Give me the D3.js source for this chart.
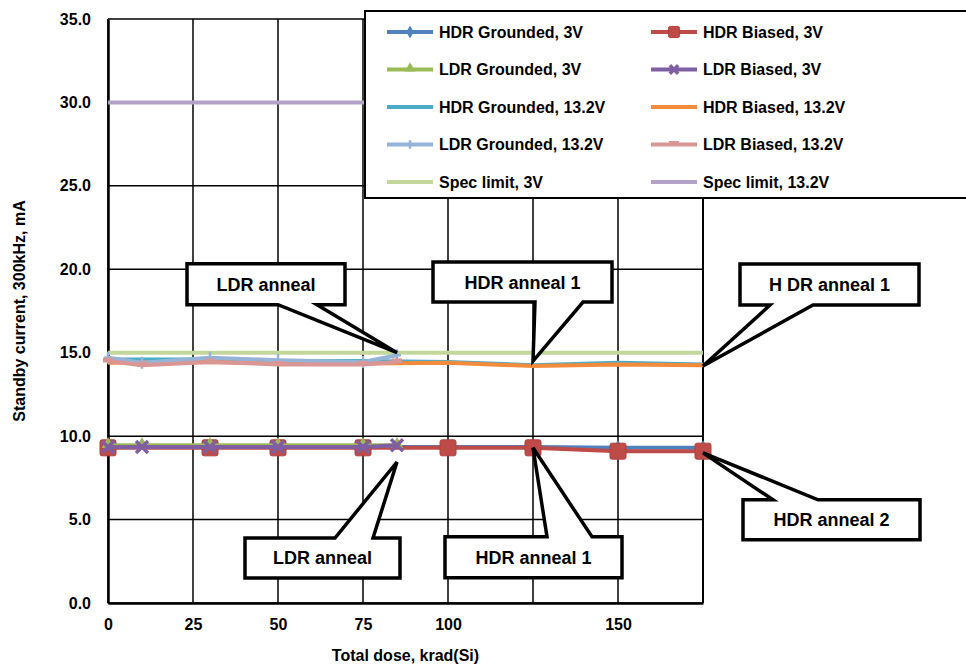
<!DOCTYPE html>
<html>
<head>
<meta charset="utf-8">
<script src="https://cdn.jsdelivr.net/npm/d3@7"></script>
<style>
  body { margin: 0; background: #fff; }
  text { font-family: "Liberation Sans", Arial, sans-serif; font-weight: bold; }
</style>
</head>
<body>
<div id="chart"></div>
<script>
// dose points, krad(Si)
const hdrDose = [0, 30, 50, 75, 100, 125, 150, 175];
const ldrDose = [0, 10, 30, 50, 75, 85];
const specDose = [0, 175];

// standby current, mA
const hdrGnd3 = [9.35, 9.35, 9.35, 9.35, 9.35, 9.35, 9.3, 9.3];
const hdrBias3 = [9.3, 9.3, 9.3, 9.3, 9.3, 9.3, 9.1, 9.1];
const ldrGnd3 = [9.45, 9.45, 9.45, 9.45, 9.45, 9.45];
const ldrBias3 = [9.35, 9.35, 9.35, 9.35, 9.35, 9.45];
const hdrGnd13 = [14.6, 14.6, 14.5, 14.5, 14.45, 14.25, 14.4, 14.3];
const hdrBias13 = [14.4, 14.45, 14.35, 14.35, 14.4, 14.2, 14.3, 14.25];
const ldrGnd13 = [14.7, 14.4, 14.7, 14.55, 14.45, 14.85];
const ldrBias13 = [14.5, 14.25, 14.45, 14.3, 14.3, 14.45];
const spec3 = [15.0, 15.0];
const spec13 = [30.0, 30.0];

const xTicks = [0, 25, 50, 75, 100, 150];
const yTicks = [0, 5, 10, 15, 20, 25, 30, 35];

const seriesNames = ["HDR Grounded, 3V", "HDR Biased, 3V", "LDR Grounded, 3V", "LDR Biased, 3V",
  "HDR Grounded, 13.2V", "HDR Biased, 13.2V", "LDR Grounded, 13.2V", "LDR Biased, 13.2V",
  "Spec limit, 3V", "Spec limit, 13.2V"];

// annotations: tip in data units, box offset from tip in px
const notes = [
  {text: "LDR anneal", dose: 85, mA: 15.0, dx: -210, dy: -89, w: 158, h: 41, b0: 91, b1: 130, side: "bottom"},
  {text: "HDR anneal 1", dose: 125, mA: 14.5, dx: -100, dy: -99, w: 179, h: 40, b0: 102, b1: 150, side: "bottom"},
  {text: "H DR anneal 1", dose: 175, mA: 14.2, dx: 37, dy: -102, w: 179, h: 41, b0: 30, b1: 73, side: "bottom"},
  {text: "LDR anneal", dose: 85, mA: 8.45, dx: -152, dy: 76, w: 155, h: 40, b0: 90, b1: 128, side: "top"},
  {text: "HDR anneal 1", dose: 125, mA: 9.3, dx: -88, dy: 89, w: 177, h: 41, b0: 102, b1: 147, side: "top"},
  {text: "HDR anneal 2", dose: 175, mA: 9.0, dx: 40, dy: 47, w: 177, h: 40, b0: 30, b1: 75, side: "top"}
];

const series = [
  {name: seriesNames[0], x: hdrDose, y: hdrGnd3, color: "#4F81BD", marker: "diamond"},
  {name: seriesNames[1], x: hdrDose, y: hdrBias3, color: "#BE4B48", marker: "square"},
  {name: seriesNames[2], x: ldrDose, y: ldrGnd3, color: "#9BBB59", marker: "triangle"},
  {name: seriesNames[3], x: ldrDose, y: ldrBias3, color: "#7F5FA1", marker: "x"},
  {name: seriesNames[4], x: hdrDose, y: hdrGnd13, color: "#4BACC6", marker: "none"},
  {name: seriesNames[5], x: hdrDose, y: hdrBias13, color: "#F38B3C", marker: "none"},
  {name: seriesNames[6], x: ldrDose, y: ldrGnd13, color: "#95B3D7", marker: "plus"},
  {name: seriesNames[7], x: ldrDose, y: ldrBias13, color: "#D99694", marker: "dash"},
  {name: seriesNames[8], x: specDose, y: spec3, color: "#C3D69B", marker: "none"},
  {name: seriesNames[9], x: specDose, y: spec13, color: "#B3A2C7", marker: "none"}
];

const margin = {top: 19, right: 263, bottom: 61, left: 108};
const W = 966, H = 664;
const width = W - margin.left - margin.right;
const height = H - margin.top - margin.bottom;

const svg = d3.select("#chart").append("svg")
  .attr("width", W)
  .attr("height", H);

const chart = svg.append("g")
  .attr("transform", "translate(" + margin.left + "," + margin.top + ")");

const x = d3.scaleLinear().domain([0, 175]).range([0, width]);
const y = d3.scaleLinear().domain([0, 35]).range([height, 0]);

// grid
chart.append("g")
  .selectAll("line")
  .data(d3.range(0, 176, 25))
  .enter().append("line")
  .attr("x1", d => x(d)).attr("x2", d => x(d))
  .attr("y1", 0).attr("y2", height)
  .attr("stroke", "#000").attr("stroke-width", 1.5);

chart.append("g")
  .selectAll("line")
  .data(yTicks)
  .enter().append("line")
  .attr("x1", 0).attr("x2", width)
  .attr("y1", d => y(d)).attr("y2", d => y(d))
  .attr("stroke", "#000").attr("stroke-width", 1.5);

// axes
const yAxis = chart.append("g")
  .call(d3.axisLeft(y).tickValues(yTicks).tickSize(0).tickPadding(17).tickFormat(d3.format(".1f")));
yAxis.select(".domain").attr("stroke-width", 2.5);
yAxis.selectAll("text").attr("font-size", 16).attr("fill", "#000")
  .style("font-family", "'Liberation Sans', Arial, sans-serif").style("font-weight", "bold");

const xAxis = chart.append("g")
  .attr("transform", "translate(0," + height + ")")
  .call(d3.axisBottom(x).tickValues(xTicks).tickSize(0).tickPadding(16).tickFormat(d3.format("d")));
xAxis.select(".domain").attr("stroke-width", 2.5);
xAxis.selectAll("text").attr("font-size", 16).attr("fill", "#000")
  .style("font-family", "'Liberation Sans', Arial, sans-serif").style("font-weight", "bold");

chart.append("line")
  .attr("x1", width).attr("x2", width).attr("y1", 0).attr("y2", height)
  .attr("stroke", "#000").attr("stroke-width", 2);

// titles
svg.append("text")
  .attr("x", margin.left + width / 2)
  .attr("y", 661)
  .attr("text-anchor", "middle")
  .attr("font-size", 16)
  .text("Total dose, krad(Si)");

svg.append("text")
  .attr("transform", "translate(25," + (margin.top + height / 2) + ") rotate(-90)")
  .attr("text-anchor", "middle")
  .attr("font-size", 16)
  .text("Standby current, 300kHz, mA");

function drawMarker(g, type, color, cx, cy, small) {
  const k = small ? 0.7 : 1;
  if (type === "square") {
    g.append("rect").attr("x", cx - 8 * k).attr("y", cy - 8 * k)
      .attr("width", 16 * k).attr("height", 16 * k).attr("rx", 2)
      .attr("fill", color).attr("stroke", "#B0403D").attr("stroke-width", 1);
  } else if (type === "diamond") {
    g.append("path").attr("d", d3.symbol(d3.symbolDiamond, 70 * k)())
      .attr("transform", "translate(" + cx + "," + cy + ")").attr("fill", color);
  } else if (type === "triangle") {
    g.append("path").attr("d", d3.symbol(d3.symbolTriangle, 70 * k)())
      .attr("transform", "translate(" + cx + "," + (cy - 1) + ")").attr("fill", color);
  } else if (type === "x") {
    const r = 6 * k;
    g.append("path").attr("d", "M" + (cx - r) + "," + (cy - r) + "L" + (cx + r) + "," + (cy + r) +
      "M" + (cx - r) + "," + (cy + r) + "L" + (cx + r) + "," + (cy - r))
      .attr("stroke", color).attr("stroke-width", 3.5);
  } else if (type === "plus") {
    const r = 6 * k;
    g.append("path").attr("d", "M" + cx + "," + (cy - r) + "L" + cx + "," + (cy + r) +
      "M" + (cx - 4) + "," + cy + "L" + (cx + 4) + "," + cy)
      .attr("stroke", color).attr("stroke-width", 2.5);
  } else if (type === "dash") {
    g.append("path").attr("d", "M" + (cx - 5) + "," + (cy - 1) + "L" + (cx + 5) + "," + (cy - 1))
      .attr("stroke", color).attr("stroke-width", 5);
  }
}

const line = d3.line()
  .x(d => x(d[0]))
  .y(d => y(d[1]));

// spec limits under the data
const order = [8, 9, 0, 1, 2, 3, 4, 5, 6, 7];
order.forEach(function(i) {
  const s = series[i];
  const pts = s.x.map((d, j) => [d, s.y[j]]);
  const g = chart.append("g");
  g.append("path")
    .datum(pts)
    .attr("fill", "none")
    .attr("stroke", s.color)
    .attr("stroke-width", 4)
    .attr("stroke-linejoin", "round")
    .attr("d", line);
  pts.forEach(p => drawMarker(g, s.marker, s.color, x(p[0]), y(p[1]), false));
});

// callouts
notes.forEach(function(n) {
  const tx = x(n.dose), ty = y(n.mA);
  const bx = tx + n.dx, by = ty + n.dy;
  let p;
  if (n.side === "bottom") {
    p = "M" + bx + "," + by + "H" + (bx + n.w) + "V" + (by + n.h) + "H" + (bx + n.b1) +
      "L" + tx + "," + ty + "L" + (bx + n.b0) + "," + (by + n.h) + "H" + bx + "Z";
  } else {
    p = "M" + bx + "," + by + "H" + (bx + n.b0) + "L" + tx + "," + ty + "L" + (bx + n.b1) + "," + by +
      "H" + (bx + n.w) + "V" + (by + n.h) + "H" + bx + "Z";
  }
  chart.append("path")
    .attr("d", p)
    .attr("fill", "#fff")
    .attr("stroke", "#000")
    .attr("stroke-width", 3.5)
    .attr("stroke-linejoin", "miter");
  chart.append("text")
    .attr("x", bx + n.w / 2)
    .attr("y", by + n.h / 2)
    .attr("dy", "0.36em")
    .attr("text-anchor", "middle")
    .attr("font-size", 18)
    .text(n.text);
});

// legend
const legend = svg.append("g").attr("transform", "translate(365,11)");
legend.append("rect")
  .attr("width", 620).attr("height", 187)
  .attr("fill", "#fff").attr("stroke", "#000").attr("stroke-width", 2);

series.forEach(function(s, i) {
  const col = i % 2, row = Math.floor(i / 2);
  const g = legend.append("g")
    .attr("transform", "translate(" + (col === 0 ? 22 : 286) + "," + (21 + row * 37.5) + ")");
  g.append("line")
    .attr("x1", 0).attr("x2", 46)
    .attr("stroke", s.color).attr("stroke-width", 4);
  drawMarker(g, s.marker, s.color, 23, 0, true);
  g.append("text")
    .attr("x", 52)
    .attr("dy", "0.36em")
    .attr("font-size", 16)
    .text(s.name);
});
</script>
</body>
</html>
